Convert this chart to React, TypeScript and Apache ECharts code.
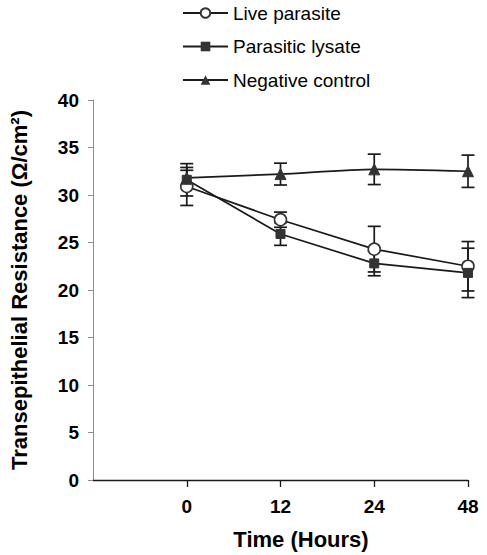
import React, { useEffect, useRef } from "react";
import * as echarts from "echarts";

const categories = ["0", "12", "24", "48"];
const axisCategories = ["", ...categories];
const liveParasite = [30.9, 27.4, 24.3, 22.5];
const liveParasiteErr = [2.0, 0.8, 2.4, 2.6];
const parasiticLysate = [31.6, 25.9, 22.8, 21.8];
const parasiticLysateErr = [1.7, 1.2, 1.3, 2.6];
const negativeControl = [31.8, 32.2, 32.7, 32.5];
const negativeControlErr = [0.8, 1.15, 1.6, 1.7];
const seriesNames = ["Live parasite", "Parasitic lysate", "Negative control"];
const yTitle = "Transepithelial Resistance (Ω/cm²)";
const xTitle = "Time (Hours)";

const FONT = "'Liberation Sans', Arial, sans-serif";
const INK = "#1a1a1a";
const MARK = "#333333";

function errData(vals: number[], errs: number[]) {
  return categories.map((c, i) => [c, vals[i] - errs[i], vals[i] + errs[i]]);
}

const renderErr = (params: any, api: any) => {
  const x = api.value(0);
  const top = api.coord([x, api.value(2)]);
  const bot = api.coord([x, api.value(1)]);
  const hw = 6.5;
  const style = { stroke: INK, lineWidth: 1.7, fill: "none" };
  return {
    type: "group",
    children: [
      { type: "line", shape: { x1: top[0], y1: top[1], x2: bot[0], y2: bot[1] }, style },
      { type: "line", shape: { x1: top[0] - hw, y1: top[1], x2: top[0] + hw, y2: top[1] }, style },
      { type: "line", shape: { x1: bot[0] - hw, y1: bot[1], x2: bot[0] + hw, y2: bot[1] }, style },
    ],
  };
};

export default function App() {
  const ref = useRef<HTMLDivElement>(null);
  useEffect(() => {
    if (!ref.current) return;
    const chart = echarts.init(ref.current, undefined, { renderer: "svg" });
    const lineBase = {
      type: "line",
      lineStyle: { color: INK, width: 1.7 },
      z: 3,
    };
    chart.setOption({
      animation: false,
      backgroundColor: "#ffffff",
      grid: { left: 92, right: 19, top: 100, bottom: 75, containLabel: false },
      legend: {
        orient: "vertical",
        left: 182,
        top: 3,
        padding: 0,
        itemWidth: 45,
        itemHeight: 12,
        itemGap: 13.5,
        data: seriesNames,
        textStyle: { fontFamily: FONT, fontSize: 19, color: "#000", lineHeight: 20 },
      },
      xAxis: {
        type: "category",
        data: axisCategories,
        boundaryGap: false,
        axisLine: { lineStyle: { color: INK, width: 1.3 } },
        axisTick: {
          length: 7,
          interval: (idx: number) => idx !== 0,
          lineStyle: { color: INK, width: 1.3 },
        },
        axisLabel: {
          interval: (idx: number) => idx !== 0,
          fontFamily: FONT,
          fontWeight: "bold",
          fontSize: 19,
          color: "#000",
          margin: 17,
        },
        splitLine: { show: false },
      },
      yAxis: {
        type: "value",
        min: 0,
        max: 40,
        interval: 5,
        name: yTitle,
        nameLocation: "middle",
        nameRotate: 90,
        nameGap: 63,
        nameTextStyle: { fontFamily: FONT, fontWeight: "bold", fontSize: 22, color: "#000" },
        axisLine: { show: true, lineStyle: { color: "#8c8c8c", width: 1 } },
        axisTick: { show: true, length: 5, lineStyle: { color: "#8c8c8c" } },
        axisLabel: {
          fontFamily: FONT,
          fontWeight: "bold",
          fontSize: 19,
          color: "#000",
          margin: 14,
        },
        splitLine: { show: false },
      },
      graphic: [
        {
          type: "text",
          x: 301,
          y: 539,
          style: {
            text: xTitle,
            fontFamily: FONT,
            fontWeight: "bold",
            fontSize: 22,
            fill: "#000",
            align: "center",
            verticalAlign: "middle",
          },
        },
      ],
      series: [
        {
          type: "custom",
          renderItem: renderErr,
          data: errData(negativeControl, negativeControlErr),
          z: 2,
          silent: true,
        },
        {
          type: "custom",
          renderItem: renderErr,
          data: errData(liveParasite, liveParasiteErr),
          z: 2,
          silent: true,
        },
        {
          type: "custom",
          renderItem: renderErr,
          data: errData(parasiticLysate, parasiticLysateErr),
          z: 2,
          silent: true,
        },
        {
          ...lineBase,
          name: seriesNames[0],
          symbol: "circle",
          symbolSize: 12,
          itemStyle: { color: "#ffffff", borderColor: MARK, borderWidth: 1.6 },
          data: categories.map((c, i) => [c, liveParasite[i]]),
        },
        {
          ...lineBase,
          name: seriesNames[1],
          symbol: "rect",
          symbolSize: 9,
          itemStyle: { color: MARK, borderColor: MARK },
          data: categories.map((c, i) => [c, parasiticLysate[i]]),
        },
        {
          ...lineBase,
          name: seriesNames[2],
          symbol: "triangle",
          symbolSize: 11,
          smooth: 0.25,
          itemStyle: { color: MARK, borderColor: MARK },
          data: categories.map((c, i) => [c, negativeControl[i]]),
        },
      ],
    });
    return () => chart.dispose();
  }, []);
  return (
    <div
      ref={ref}
      style={{ position: "absolute", left: 0, top: 0, width: 487, height: 555 }}
    />
  );
}
